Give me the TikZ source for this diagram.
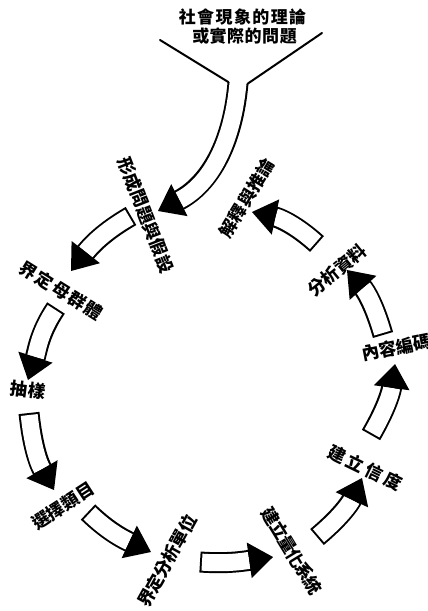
\documentclass[tikz,border=0pt]{standalone}
\usepackage{fontspec}
\newfontfamily\cjk{Noto Sans CJK TC}
\usetikzlibrary{calc}
\makeatletter
\newcommand\sptext[2]{\def\sp@gap{#1}\sp@first#2\relax}
\def\sp@first#1{#1\sp@loop}
\def\sp@loop#1{\ifx#1\relax\else\kern\sp@gap #1\expandafter\sp@loop\fi}
\makeatother
\tikzset{
  lab/.style={font=\cjk\bfseries\fontsize{17.5}{17.5}\selectfont, inner sep=0pt},
  toplab/.style={font=\cjk\bfseries\fontsize{17}{17}\selectfont, inner sep=0pt},
  shaftblk/.style={line width=21pt, draw=black},
  shaftwht/.style={line width=17pt, draw=white},
  vline/.style={line width=2pt, line cap=round, line join=round},
}
\newcommand{\blockarrow}[5][2pt]{%
  \draw[shaftblk, shorten >=22pt] (#2) to[out=#3,in=#5] (#4);
  \draw[shaftwht, shorten <=#1, shorten >=24pt] (#2) to[out=#3,in=#5] (#4);
  \fill[black] ($(#4)+(#5:24pt)+(#5+90:18pt)$) -- (#4) -- ($(#4)+(#5:24pt)+(#5-90:18pt)$) -- cycle;
}
\begin{document}
\begin{tikzpicture}[x=1pt,y=1pt]
\fill[white] (0,0) rectangle (428,-611);
\useasboundingbox (0,0) rectangle (428,-611);

% top problem text
\node[toplab] (top1) at (242.5,-17) {\sptext{1.4pt}{社會現象的理論}};
\node[toplab] (top2) at (244.5,-36) {\sptext{0.5pt}{或實際的問題}};

% funnel
\coordinate (fs) at (238,-83);
\coordinate (ft) at (158,-211);
\coordinate (vl) at (160,-40);
\coordinate (vr) at (322,-33);
\blockarrow[-1.5pt]{fs}{265}{ft}{27}
\draw[vline] (vl) -- ($(fs)+(175:9.5pt)$);
\draw[vline] (vr) -- ($(fs)+(355:9.5pt)$);

% step labels
\node[lab, rotate=-68.6] (n1) at (146,-215) {\sptext{0pt}{形成問題與假設}};
\node[lab, rotate=-32] (n2) at (61,-290) {\sptext{1.4pt}{界定母群體}};
\node[lab, rotate=-7] (n3) at (28,-390) {\sptext{0pt}{抽樣}};
\node[lab, rotate=33] (n4) at (63,-506) {\sptext{0.1pt}{選擇類目}};
\node[lab, rotate=61] (n5) at (167,-561) {\sptext{-0.6pt}{界定分析單位}};
\node[lab, rotate=-58.7] (n6) at (292,-551) {\sptext{-1.2pt}{建立量化系統}};
\node[lab, rotate=-26] (n7) at (365,-468) {\sptext{3.2pt}{建立信度}};
\node[lab, rotate=11] (n8) at (396.5,-347.5) {\sptext{0pt}{內容編碼}};
\node[lab, rotate=39.5] (n9) at (337,-270) {\sptext{-0.2pt}{分析資料}};
\node[lab, rotate=58.8] (n10) at (247,-198) {\sptext{0.3pt}{解釋與推論}};

% cycle arrows
\coordinate (a1s) at (131,-216); \coordinate (a1t) at (71,-271);
\coordinate (a2s) at (56,-308);  \coordinate (a2t) at (28,-380);
\coordinate (a3s) at (29,-413);  \coordinate (a3t) at (54,-490);
\coordinate (a4s) at (88,-512);  \coordinate (a4t) at (151,-552);
\coordinate (a5s) at (200,-562); \coordinate (a5t) at (273,-557);
\coordinate (a6s) at (317,-537); \coordinate (a6t) at (362,-478);
\coordinate (a7s) at (371,-435); \coordinate (a7t) at (395,-364);
\coordinate (a8s) at (383,-335); \coordinate (a8t) at (347,-270);
\coordinate (a9s) at (317,-244); \coordinate (a9t) at (252,-212);

\blockarrow{a1s}{210}{a1t}{52}
\blockarrow{a2s}{236}{a2t}{72}
\blockarrow{a3s}{276}{a3t}{120}
\blockarrow{a4s}{316}{a4t}{155}
\blockarrow{a5s}{-4}{a5t}{188}
\blockarrow{a6s}{40}{a6t}{245}
\blockarrow{a7s}{60}{a7t}{262}
\blockarrow{a8s}{106}{a8t}{312}
\blockarrow{a9s}{138}{a9t}{-12}
\end{tikzpicture}
\end{document}
